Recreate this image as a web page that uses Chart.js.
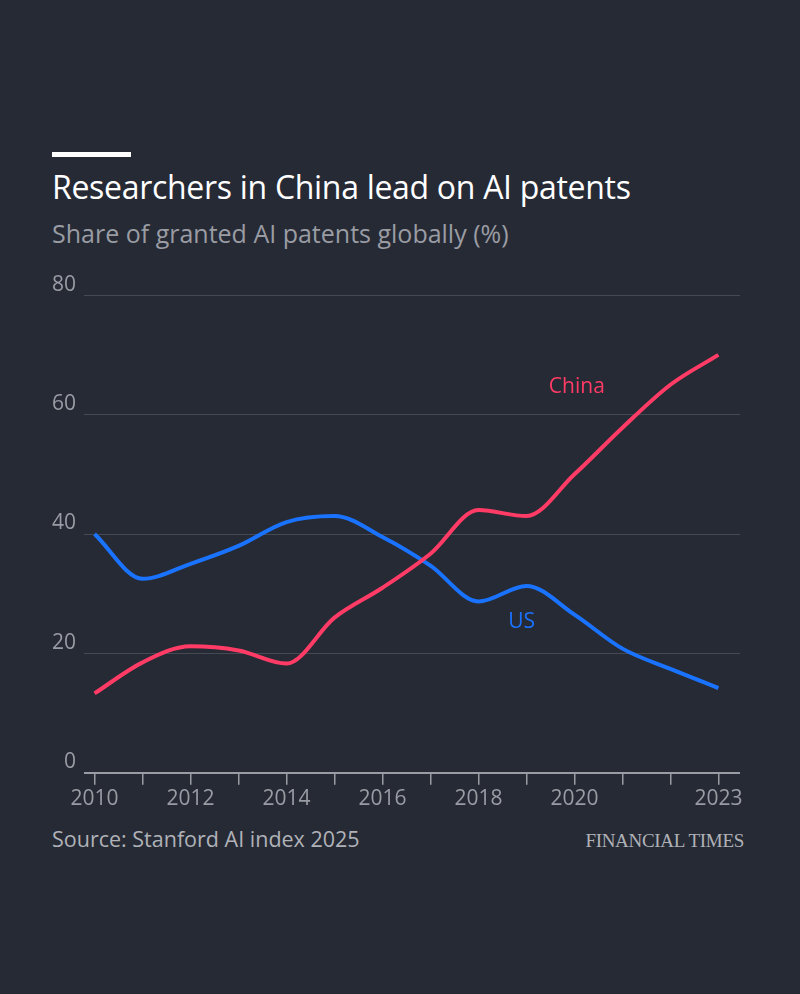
<!DOCTYPE html>
<html><head><meta charset="utf-8">
<script src="https://cdn.jsdelivr.net/npm/chart.js@4"></script>
<style>
body{margin:0;background:#262a35;width:800px;height:994px;position:relative;font-family:"Open Sans",sans-serif;overflow:hidden}
#bar{position:absolute;left:52px;top:152px;width:79px;height:5px;background:#fff}
#title{position:absolute;left:52px;top:165px;font-size:32px;color:#fff;letter-spacing:-0.3px}
#sub{position:absolute;left:52px;top:216px;font-size:25px;color:#9a9ca3}
#src{position:absolute;left:52px;top:824px;font-size:21.5px;color:#b0b2b8}
#ft{position:absolute;right:56px;top:830px;font-size:19px;color:#b0b2b8;font-family:"Liberation Serif",serif;letter-spacing:-0.3px}
#wrap{position:absolute;left:44px;top:262px;width:706px;height:552px}
</style></head><body>
<div id="bar"></div>
<div id="title">Researchers in China lead on AI patents</div>
<div id="sub">Share of granted AI patents globally (%)</div>
<div id="wrap"><canvas id="c"></canvas></div>
<div id="src">Source: Stanford AI index 2025</div>
<div id="ft">FINANCIAL TIMES</div>
<script>
// values
const years = [2010,2011,2012,2013,2014,2015,2016,2017,2018,2019,2020,2021,2022,2023];
const china = [13.3,18.5,21.2,20.5,18.3,26,31,36.7,44,43,50,57.8,65,70];
const us = [40,32.5,35,38,42,43,39.5,34.7,28.7,31.3,26.5,20.8,17.4,14.2];
const yTicks = [0,20,40,60,80];
const xLabels = [2010,2012,2014,2016,2018,2020,2023];

const labelPlugin = {
  id:'labels',
  afterDatasetsDraw(chart){
    const c = chart.ctx, x = chart.scales.x, y = chart.scales.y;
    c.save();
    c.font = '21px "Open Sans"';
    c.textAlign = 'center';
    c.textBaseline = 'middle';
    c.fillStyle = '#ff3b66';
    c.fillText('China', x.getPixelForValue(2020.05), y.getPixelForValue(64.7));
    c.fillStyle = '#1a73ff';
    c.fillText('US', x.getPixelForValue(2018.9), y.getPixelForValue(25.3));
    c.restore();
  }
};

function pts(arr){ return years.map((yr,i)=>({x:yr,y:arr[i]})); }

new Chart(document.getElementById('c'), {
  type:'line',
  data:{datasets:[
    {data:pts(china),borderColor:'#ff3b66',borderWidth:4,pointRadius:0,cubicInterpolationMode:'monotone'},
    {data:pts(us),borderColor:'#1a73ff',borderWidth:4,pointRadius:0,cubicInterpolationMode:'monotone'}
  ]},
  options:{
    responsive:true,maintainAspectRatio:false,animation:false,
    layout:{padding:{right:10,top:12}},
    plugins:{legend:{display:false},tooltip:{enabled:false}},
    scales:{
      x:{type:'linear',min:2009.78,max:2023.45,
        afterBuildTicks(s){ s.ticks = years.map(v=>({value:v})); },
        grid:{display:true,drawOnChartArea:false,drawTicks:true,tickLength:12,color:'#9a9ca3',lineWidth:1.5},
        border:{display:false},
        ticks:{color:'#9a9ca3',font:{size:21,family:'"Open Sans"'},padding:2,maxRotation:0,autoSkip:false,
          callback:v=>xLabels.includes(v)?String(v):''}
      },
      y:{min:0,max:80,
        afterBuildTicks(s){ s.ticks = yTicks.map(v=>({value:v})); },
        grid:{color:c=>c.tick.value===0?'#9a9ca3':'#454954',lineWidth:c=>c.tick.value===0?2:1,drawTicks:false},
        border:{display:false},
        ticks:{color:'#9a9ca3',font:{size:21,family:'"Open Sans"'},padding:8,align:'end'}
      }
    }
  },
  plugins:[labelPlugin]
});
</script>
</body></html>
